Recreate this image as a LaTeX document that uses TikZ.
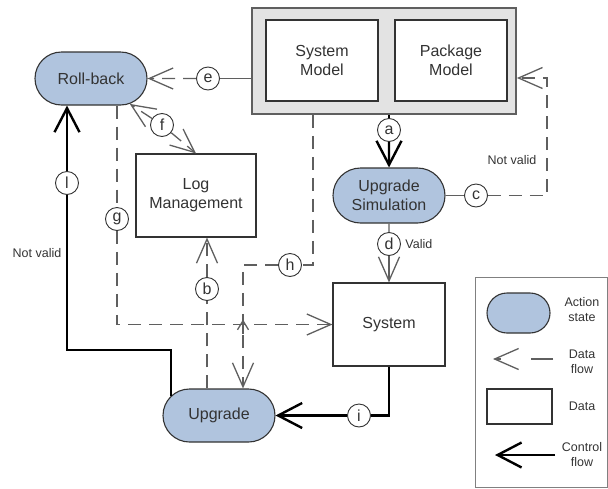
\documentclass[tikz,border=0pt]{standalone}
\usepackage{fontspec}
\setmainfont{Liberation Sans}
\usetikzlibrary{
arrows.meta,
calc,
positioning,
shapes
}
\tikzset{>={Straight Barb[length=24pt,width=21pt]}}
\definecolor{actfill}{RGB}{176,196,222}
\definecolor{txtgray}{RGB}{51,51,51}
\definecolor{flowgray}{RGB}{95,95,95}

\begin{document}
\begin{tikzpicture}[x=1pt,y=-1pt,font=\fontsize{16}{19}\selectfont,text=txtgray,
	act/.style={draw=txtgray,line width=1.1pt,fill=actfill,rounded rectangle,align=center,minimum width=112pt,minimum height=53pt,inner sep=0pt},
	dat/.style={draw=txtgray,line width=1.1pt,fill=white,align=center,minimum width=112pt,minimum height=83pt,inner sep=0pt},
	lbl/.style={draw=txtgray,circle,line width=0.9pt,fill=white,inner sep=0pt,minimum size=23pt},
	small/.style={font=\fontsize{12.5}{15}\selectfont,align=center},
	dline/.style={draw=flowgray,line width=1.3pt},
	dflow/.style={dline,dash pattern=on 13pt off 8pt},
	ctrl/.style={draw=black,line width=2.4pt,>={Straight Barb[length=24pt,width=25pt]}}]
		\useasboundingbox (0,0) rectangle (608,488);
		\node[draw=flowgray,line width=1.8pt,fill=gray!22,minimum width=264pt,minimum height=106pt] (model) at (384,61) {};
		\node[dat,minimum height=81pt] (sysm) at (322,60.5) {System\\Model};
		\node[dat,minimum height=81pt] (pkgm) at (451,60.5) {Package\\Model};
		\node[act] (rollback) at (91,78.5) {Roll-back};
		\node[dat,minimum width=120pt] (logm) at (196,195.5) {Log\\Management};
		\node[act,minimum height=55pt] (upsim) at (389,195.5) {Upgrade\\Simulation};
		\node[dat] (system) at (389,324.5) {System};
		\node[act] (upgrade) at (219,415.5) {Upgrade};
		
		\node[lbl] (ca) at (389,130) {a};
		\node[lbl] (cb) at (207,289) {b};
		\node[lbl] (cc) at (476,195.5) {c};
		\node[lbl] (cd) at (389,244) {d};
		\node[lbl] (ce) at (208,78.5) {e};
		\node[lbl] (cf) at (162,125) {f};
		\node[lbl] (cg) at (117,219) {g};
		\node[lbl] (ch) at (290,265) {h};
		\node[lbl] (ci) at (359,415.5) {i};
		\node[lbl] (cl) at (67,183) {l};
		
		\coordinate (cturn) at (547,78);
		\coordinate (htop) at (313,0);
		\coordinate (hdrop) at (243,265);
		\coordinate (lcorner) at (67,350);
		
		\draw[ctrl] (ca |- model.south) -- (ca);
		\draw[ctrl,->] (ca) -- (upsim);
		
		\draw[dline] (upsim.east) -- (cc);
		\draw[dflow,->] (cc) -| (cturn) -- (cturn -| model.east);
		\node[small] (nvsim) at (512,160) {Not valid};
		
		\draw[dline] (upsim) -- (cd);
		\draw[dline,->] (cd) -- (system);
		\node[small,right=1pt of cd] (valid) {Valid};
		
		\draw[dline] (model.west |- ce) -- (ce);
		\draw[dflow,->] (ce) -- (rollback);
		
		\draw[dflow,->] (cf) -- (rollback);
		\draw[dflow,->] (cf) -- (logm.north);
		
		\draw[dflow] (rollback.south -| cg) -- (cg);
		\draw[dflow,->] (cg) |- (system.west);
		
		\draw[dflow] (htop |- model.south) |- (ch);
		\draw[dflow,->] (ch) -- (hdrop) -- (hdrop |- upgrade.north);
		\draw[dline,-{Straight Barb[length=9pt,width=11pt]}] ($(hdrop |- system.west)+(0,9)$) -- ($(hdrop |- system.west)+(0,-5)$);
		
		\draw[dflow] (upgrade.north -| cb) -- (cb);
		\draw[dflow,->] (cb) -- (logm.south -| cb);
		
		\draw[ctrl] (system.south) |- (ci);
		\draw[ctrl,->] (ci) -- (upgrade.east);
		
		\draw[ctrl] (upgrade.158) |- (lcorner) -- (cl);
		\draw[ctrl,->] (cl) -- (rollback.south -| cl);
		\node[small] (nvup) at (37,253) {Not valid};
		
		\node[draw=gray,line width=0.8pt,minimum width=132pt,minimum height=210pt] (legend) at (541,382) {};
		\node[act,minimum width=63pt,minimum height=40pt] (lact) at (518.5,313) {};
		\node[small] (tact) at (582,310) {Action\\state};
		\coordinate (ldf) at (553,359);
		\draw[dline,dash pattern=on 22pt off 30pt,->] (ldf) -- ++(-60,0);
		\node[small] (tdf) at (582,362) {Data\\flow};
		\node[dat,minimum width=65pt,minimum height=35pt] (ldat) at (519.5,406.5) {};
		\node[small] (tdat) at (582,406) {Data};
		\coordinate (lcf) at (555,455);
		\draw[ctrl,->] (lcf) -- ++(-60,0);
		\node[small] (tcf) at (582,455) {Control\\flow};
	\end{tikzpicture}
\end{document}
